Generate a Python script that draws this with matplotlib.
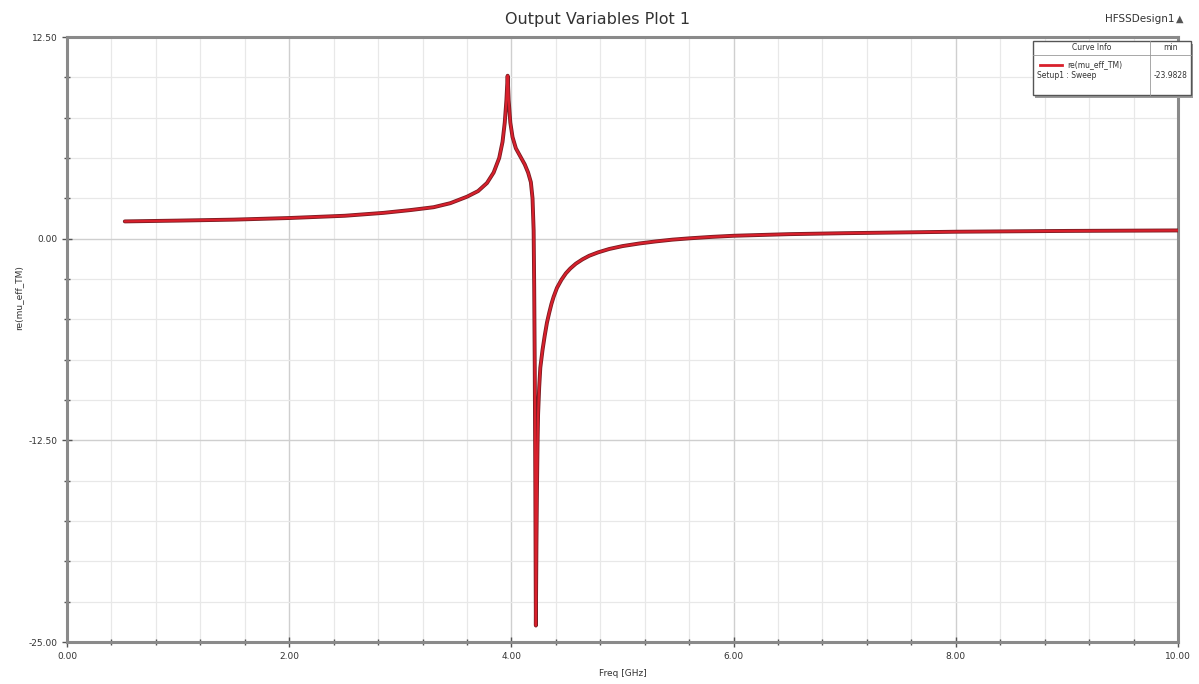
import matplotlib.pyplot as plt
from matplotlib.ticker import MultipleLocator, FormatStrFormatter
from matplotlib.patches import Rectangle

# re(mu_eff_TM) vs frequency, values read along the sweep
freq = [0.52, 1.0, 1.5, 2.0, 2.5, 2.85, 3.1, 3.3, 3.45, 3.6, 3.7, 3.78,
        3.84, 3.89, 3.92, 3.94, 3.955, 3.966, 3.975, 3.99, 4.01, 4.04,
        4.08, 4.12, 4.15, 4.175, 4.19, 4.20, 4.205, 4.21, 4.215, 4.22,
        4.225, 4.23, 4.235, 4.24, 4.25, 4.26, 4.28, 4.30, 4.32, 4.34, 4.36,
        4.38, 4.41, 4.45, 4.49, 4.53, 4.58, 4.64, 4.70, 4.78, 4.88, 5.0,
        5.15, 5.3, 5.45, 5.6, 5.8, 6.0, 6.5, 7.0, 8.0, 9.0, 10.0]
mu_re = [1.07, 1.12, 1.18, 1.28, 1.42, 1.6, 1.78, 1.95, 2.2, 2.6, 2.95, 3.45,
         4.1, 5.0, 6.0, 7.2, 8.6, 10.1, 8.6, 7.2, 6.3, 5.6,
         5.1, 4.6, 4.1, 3.5, 2.5, 0.5, -3.0, -8.0, -15.0, -23.98,
         -19.0, -15.5, -12.8, -10.9, -9.2, -8.0, -6.9, -6.0, -5.2, -4.6, -4.05,
         -3.6, -3.05, -2.55, -2.15, -1.85, -1.55, -1.28, -1.06, -0.85, -0.64, -0.46,
         -0.3, -0.17, -0.06, 0.02, 0.11, 0.18, 0.28, 0.34, 0.43, 0.48, 0.51]

legend_header = ["Curve Info", "min"]
curve_name = "re(mu_eff_TM)"
curve_setup = "Setup1 : Sweep"
curve_min = "-23.9828"

fig = plt.figure(figsize=(11.99, 6.84), dpi=100)
ax = fig.add_axes([0.0559, 0.0614, 0.9266, 0.8845])

ax.plot(freq, mu_re, color="#7a1c22", lw=2.8, solid_joinstyle="round",
        solid_capstyle="round", zorder=3)
ax.plot(freq, mu_re, color="#d8202c", lw=1.6, solid_joinstyle="round",
        solid_capstyle="round", zorder=4)

ax.set_xlim(0, 10)
ax.set_ylim(-25, 12.5)
ax.xaxis.set_major_locator(MultipleLocator(2))
ax.xaxis.set_minor_locator(MultipleLocator(0.4))
ax.yaxis.set_major_locator(MultipleLocator(12.5))
ax.yaxis.set_minor_locator(MultipleLocator(2.5))
ax.xaxis.set_major_formatter(FormatStrFormatter("%.2f"))
ax.yaxis.set_major_formatter(FormatStrFormatter("%.2f"))

ax.grid(which="major", color="#cfcfcf", lw=1.0)
ax.grid(which="minor", color="#e8e8e8", lw=0.9)
ax.set_axisbelow(True)

for s in ax.spines.values():
    s.set_color("#8a8a8a")
    s.set_linewidth(2.2)
ax.tick_params(which="both", direction="inout", colors="#555555",
               labelsize=6.5, labelcolor="#333333")
ax.tick_params(which="major", length=7, width=1.0)
ax.tick_params(which="minor", length=5, width=1.0)

ax.set_xlabel("Freq [GHz]", fontsize=6.5, color="#333333", labelpad=6)
fig.text(0.016, 0.565, "re(mu_eff_TM)", rotation=90, fontsize=6.5,
         color="#333333", ha="center", va="center")

fig.text(0.4985, 0.972, "Output Variables Plot 1", fontsize=11.5,
         color="#333333", ha="center", va="center")
fig.text(0.951, 0.972, "HFSSDesign1", fontsize=7.5, color="#333333",
         ha="center", va="center")
fig.text(0.984, 0.972, "\u25b2", fontsize=7, color="#555555",
         ha="center", va="center")

# legend table in the upper-right corner
bx0, by0, bw, bh = 1033 / 1199, 1 - 95 / 684, 158 / 1199, 54 / 684
fig.patches.append(Rectangle((bx0 + 0.002, by0 - 0.004), bw, bh,
                             transform=fig.transFigure, facecolor="#9a9a9a",
                             edgecolor="none", zorder=5))
fig.patches.append(Rectangle((bx0, by0), bw, bh, transform=fig.transFigure,
                             facecolor="white", edgecolor="#555555", lw=1.0,
                             zorder=6))
div_x = 1150 / 1199
fig.add_artist(plt.Line2D([div_x, div_x], [by0, by0 + bh],
                          transform=fig.transFigure, color="#999999",
                          lw=0.6, zorder=7))
fig.add_artist(plt.Line2D([bx0, bx0 + bw], [1 - 55 / 684, 1 - 55 / 684],
                          transform=fig.transFigure, color="#999999",
                          lw=0.6, zorder=7))
fig.text((bx0 + div_x) / 2, 1 - 48 / 684, legend_header[0], fontsize=5.5,
         color="#333333", ha="center", va="center", zorder=8)
fig.text((div_x + bx0 + bw) / 2, 1 - 48 / 684, legend_header[1], fontsize=5.5,
         color="#333333", ha="center", va="center", zorder=8)
fig.add_artist(plt.Line2D([1040 / 1199, 1062 / 1199], [1 - 65 / 684, 1 - 65 / 684],
                          transform=fig.transFigure, color="#d8202c",
                          lw=2.0, zorder=8))
fig.text(1067 / 1199, 1 - 65 / 684, curve_name, fontsize=5.5,
         color="#333333", ha="left", va="center", zorder=8)
fig.text(1037 / 1199, 1 - 76 / 684, curve_setup, fontsize=5.5,
         color="#333333", ha="left", va="center", zorder=8)
fig.text((div_x + bx0 + bw) / 2, 1 - 76 / 684, curve_min, fontsize=5.5,
         color="#333333", ha="center", va="center", zorder=8)

fig.savefig("out.png", dpi=100)
